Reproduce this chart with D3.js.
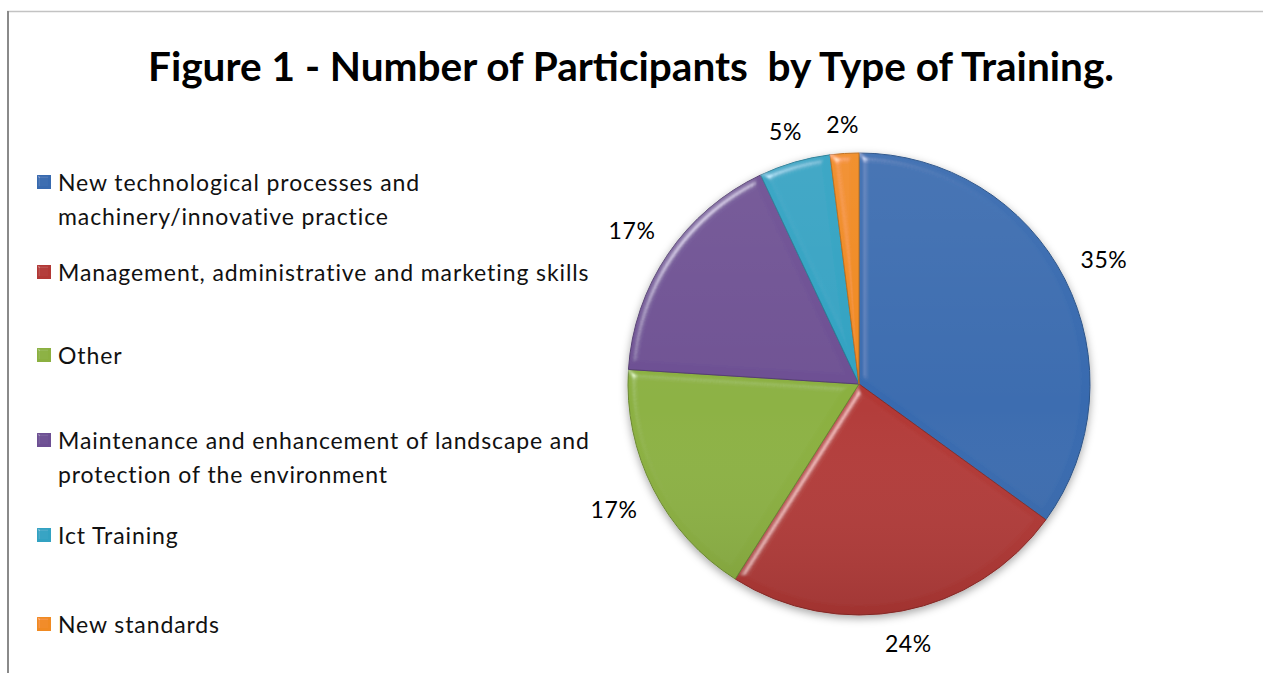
<!DOCTYPE html>
<html>
<head>
<meta charset="utf-8">
<script src="https://cdn.jsdelivr.net/npm/d3@7"></script>
<style>
  html, body { margin: 0; padding: 0; background: #fff; }
  svg { display: block; }
  text { white-space: pre; }
</style>
</head>
<body>
<svg id="chart" width="1263" height="673"></svg>
<script>
// Training categories, share of participants (%) and slice colours
const categories = [
  ["New technological processes and", "machinery/innovative practice"],
  ["Management, administrative and marketing skills"],
  ["Other"],
  ["Maintenance and enhancement of landscape and", "protection of the environment"],
  ["Ict Training"],
  ["New standards"]
];
const shares = [35, 24, 17, 17, 5, 2];
const colors = ["#386baf", "#b23835", "#8bb040", "#6d4f93", "#31a2c2", "#f08a22"];
const titleText = "Figure 1 - Number of Participants  by Type of Training.";

const W = 1263, H = 673;
const svg = d3.select("#chart");
const defs = svg.append("defs");

// Bevel lighting for slices and legend keys
function bevel(id, blur, scale, k) {
  const f = defs.append("filter").attr("id", id)
    .attr("x", "-10%").attr("y", "-10%").attr("width", "120%").attr("height", "120%");
  f.append("feGaussianBlur").attr("in", "SourceAlpha").attr("stdDeviation", blur).attr("result", "b");
  const sp = f.append("feSpecularLighting").attr("in", "b").attr("surfaceScale", scale)
    .attr("specularConstant", k).attr("specularExponent", 40)
    .attr("lighting-color", "#ffffff").attr("result", "spec");
  sp.append("feDistantLight").attr("azimuth", 225).attr("elevation", 40);
  f.append("feComposite").attr("in", "spec").attr("in2", "SourceAlpha").attr("operator", "in").attr("result", "specIn");
  f.append("feComposite").attr("in", "SourceGraphic").attr("in2", "specIn")
    .attr("operator", "arithmetic").attr("k1", 0).attr("k2", 1).attr("k3", 0.6).attr("k4", 0);
}
bevel("bevel", 4, 5, 0.7);
bevel("bevelSmall", 1.2, 2, 0.8);

// Soft shadow under the pie
const sh = defs.append("filter").attr("id", "shadow")
  .attr("x", "-10%").attr("y", "-10%").attr("width", "120%").attr("height", "125%");
sh.append("feDropShadow").attr("dx", 0).attr("dy", 3).attr("stdDeviation", 4)
  .attr("flood-color", "#000").attr("flood-opacity", 0.35);

// Gentle top-to-bottom shading over the whole pie
const shade = defs.append("linearGradient").attr("id", "shade")
  .attr("x1", 0).attr("y1", 0).attr("x2", 0).attr("y2", 1);
shade.append("stop").attr("offset", "0%").attr("stop-color", "#fff").attr("stop-opacity", 0.06);
shade.append("stop").attr("offset", "55%").attr("stop-color", "#fff").attr("stop-opacity", 0);
shade.append("stop").attr("offset", "100%").attr("stop-color", "#000").attr("stop-opacity", 0.1);

// Frame
svg.append("line").attr("x1", 7).attr("x2", W).attr("y1", 11.5).attr("y2", 11.5)
  .attr("stroke", "#c3c3c3").attr("stroke-width", 1.5);
svg.append("line").attr("x1", 8).attr("x2", 8).attr("y1", 11).attr("y2", H)
  .attr("stroke", "#8a8a8a").attr("stroke-width", 2);

// Title
svg.append("text")
  .attr("x", 631).attr("y", 81)
  .attr("text-anchor", "middle")
  .attr("font-family", "Lato, 'Open Sans', sans-serif")
  .attr("font-weight", 700).attr("font-size", 40)
  .attr("textLength", 966).attr("lengthAdjust", "spacingAndGlyphs")
  .attr("fill", "#000")
  .text(titleText);

// Pie
const cx = 859, cy = 384, R = 231;
const pie = d3.pie().sort(null).value(d => d)(shares);
const arc = d3.arc().innerRadius(0).outerRadius(R);

const pg = svg.append("g").attr("transform", `translate(${cx},${cy})`);
const slices = pg.append("g").attr("filter", "url(#shadow)");
slices.selectAll("path").data(pie).join("path")
  .attr("d", arc)
  .attr("fill", (d, i) => colors[i])
  .attr("stroke", (d, i) => d3.color(colors[i]).darker(0.7))
  .attr("stroke-width", 1)
  .attr("stroke-linejoin", "round")
  .attr("filter", "url(#bevel)");
pg.append("circle").attr("r", R).attr("fill", "url(#shade)").attr("pointer-events", "none");

// Percentage labels outside each slice
const lw = [45, 45, 45, 45, 32, 32], lh = 17, pad = 20;
pg.selectAll("text.pct").data(pie).join("text")
  .attr("class", "pct")
  .each(function(d, i) {
    const a = (d.startAngle + d.endAngle) / 2;
    const s = Math.sin(a), c = Math.cos(a);
    const dist = R + pad + Math.abs(s) * lw[i] / 2 + Math.abs(c) * lh / 2;
    d3.select(this).attr("x", s * dist).attr("y", -c * dist);
  })
  .attr("text-anchor", "middle").attr("dominant-baseline", "central")
  .attr("font-family", "Lato, 'Open Sans', sans-serif").attr("font-size", 23)
  .attr("letter-spacing", 0.6)
  .attr("fill", "#000")
  .text(d => d.data + "%");

// Legend
const legendY = [182, 272, 355, 440, 535, 624];
const lineGap = 34;
const lg = svg.append("g").attr("font-family", "Lato, 'Open Sans', sans-serif")
  .attr("font-size", 23).attr("letter-spacing", 0.9);
categories.forEach((lines, i) => {
  const y = legendY[i];
  lg.append("rect").attr("x", 37).attr("y", y - 7).attr("width", 14).attr("height", 14)
    .attr("fill", colors[i]).attr("filter", "url(#bevelSmall)");
  const t = lg.append("text").attr("x", 58).attr("y", y).attr("dominant-baseline", "central").attr("fill", "#111");
  lines.forEach((ln, j) => {
    t.append("tspan").attr("x", 58).attr("dy", j === 0 ? 0 : lineGap).text(ln);
  });
});
</script>
</body>
</html>
